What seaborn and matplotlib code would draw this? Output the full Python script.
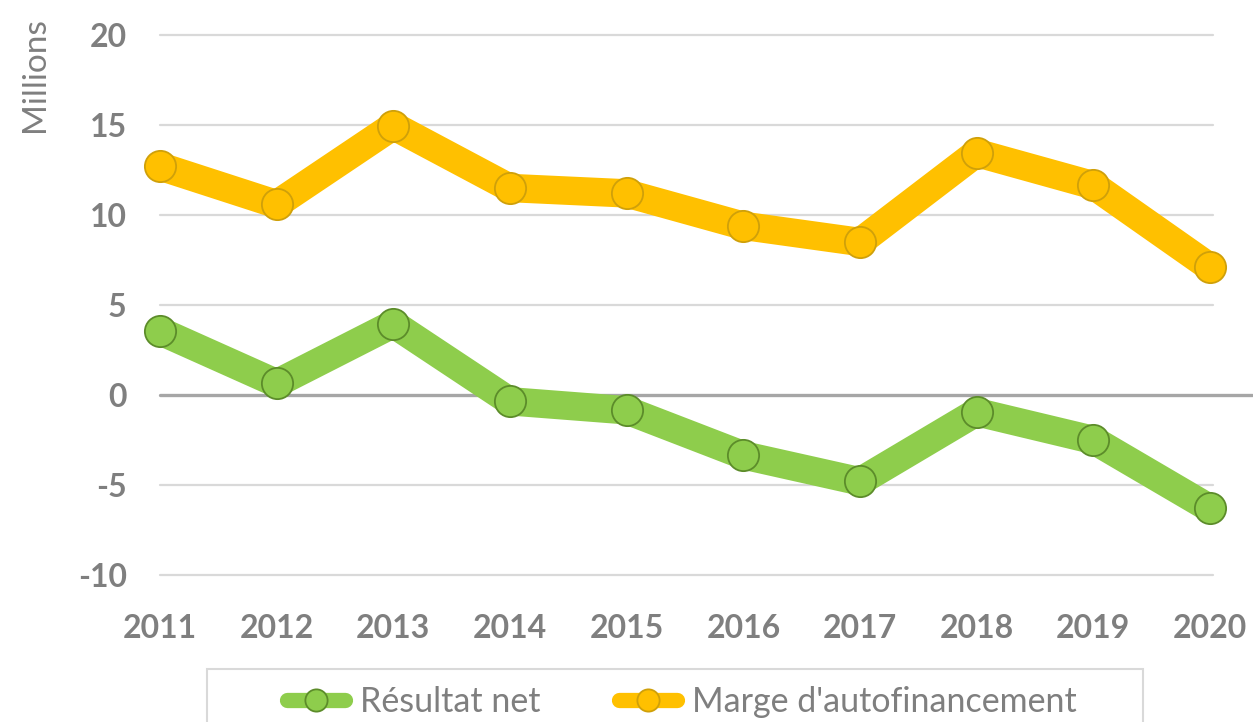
import matplotlib
matplotlib.use("Agg")
import matplotlib.pyplot as plt
from matplotlib.lines import Line2D
from matplotlib.patches import Rectangle
import numpy as np
import pandas as pd
import seaborn as sns

years = ["2011", "2012", "2013", "2014", "2015", "2016", "2017", "2018", "2019", "2020"]
resultat_net = [3.55, 0.65, 3.95, -0.35, -0.85, -3.35, -4.8, -0.95, -2.5, -6.3]
marge_autofin = [12.7, 10.6, 14.95, 11.5, 11.2, 9.4, 8.5, 13.45, 11.65, 7.1]
y_ticks = [-10, -5, 0, 5, 10, 15, 20]
series_names = ["Résultat net", "Marge d'autofinancement"]

green = "#8ECD4C"
green_edge = "#5C8C2A"
orange = "#FFC000"
orange_edge = "#CFA00A"
grey_txt = "#7F7F7F"

sns.set_theme(style="white")
plt.rcParams["font.family"] = ["Lato", "DejaVu Sans"]

df = pd.DataFrame({
    "x": list(range(len(years))) * 2,
    "value": resultat_net + marge_autofin,
    "serie": [series_names[0]] * len(years) + [series_names[1]] * len(years),
})

W, H = 1253, 722
fig = plt.figure(figsize=(W / 100, H / 100), dpi=100)
ax = fig.add_axes([160 / W, 1 - 575 / H, 1050 / W, 540 / H])

# gridlines + zero line
for t in y_ticks:
    if t != 0:
        ax.axhline(t, xmin=0, xmax=1.003, color="#D9D9D9", lw=1.6, zorder=1, clip_on=False)
ax.axhline(0, xmin=0, xmax=1.04, color="#A6A6A6", lw=2.4, zorder=2, clip_on=False)

sns.lineplot(data=df, x="x", y="value", hue="serie",
             palette={series_names[0]: green, series_names[1]: orange},
             lw=20.5, marker="o", markersize=22.5, markeredgewidth=1.3,
             legend=False, ax=ax, zorder=3, solid_capstyle="round",
             solid_joinstyle="round")

for line, ec in zip(ax.lines[-2:], [green_edge, orange_edge]):
    line.set_markeredgecolor(ec)
    line.set_clip_on(False)

ax.set_xlim(0, 9)
ax.set_ylim(-10, 20)
ax.set_yticks(y_ticks)
ax.set_yticklabels([str(t) for t in y_ticks])
ax.set_xticks(range(len(years)))
ax.set_xticklabels(years)
ax.tick_params(axis="both", length=0, labelsize=23, labelcolor=grey_txt)
ax.tick_params(axis="y", pad=24)
ax.tick_params(axis="x", pad=28)
for lab in ax.get_xticklabels() + ax.get_yticklabels():
    lab.set_fontweight("bold")
for s in ax.spines.values():
    s.set_visible(False)
ax.set_xlabel("")
ax.set_ylabel("")

fig.text(35 / W, 1 - 17 / H, "Millions", rotation=90, ha="center", va="top",
         fontsize=24, color=grey_txt)

# legend frame (runs off the bottom edge, as in the original)
fig.patches.append(Rectangle((207 / W, -0.05), (1143 - 207) / W, 0.05 + 53 / H,
                             transform=fig.transFigure, fill=False,
                             edgecolor="#D9D9D9", lw=1.5))

handles = [
    Line2D([], [], color=green, lw=11, marker="o", markersize=16,
           markerfacecolor=green, markeredgecolor=green_edge, markeredgewidth=1.3,
           solid_capstyle="round"),
    Line2D([], [], color=orange, lw=11, marker="o", markersize=16,
           markerfacecolor=orange, markeredgecolor=orange_edge, markeredgewidth=1.3,
           solid_capstyle="round"),
]
leg = fig.legend(handles, series_names, loc="center left",
                 bbox_to_anchor=(287 / W, 1 - 702 / H), ncol=2,
                 frameon=False, fontsize=24.5, handlelength=1.7,
                 handletextpad=0.45, columnspacing=2.3, borderpad=0,
                 borderaxespad=0, labelcolor=grey_txt)

fig.savefig("out.png", dpi=100)
